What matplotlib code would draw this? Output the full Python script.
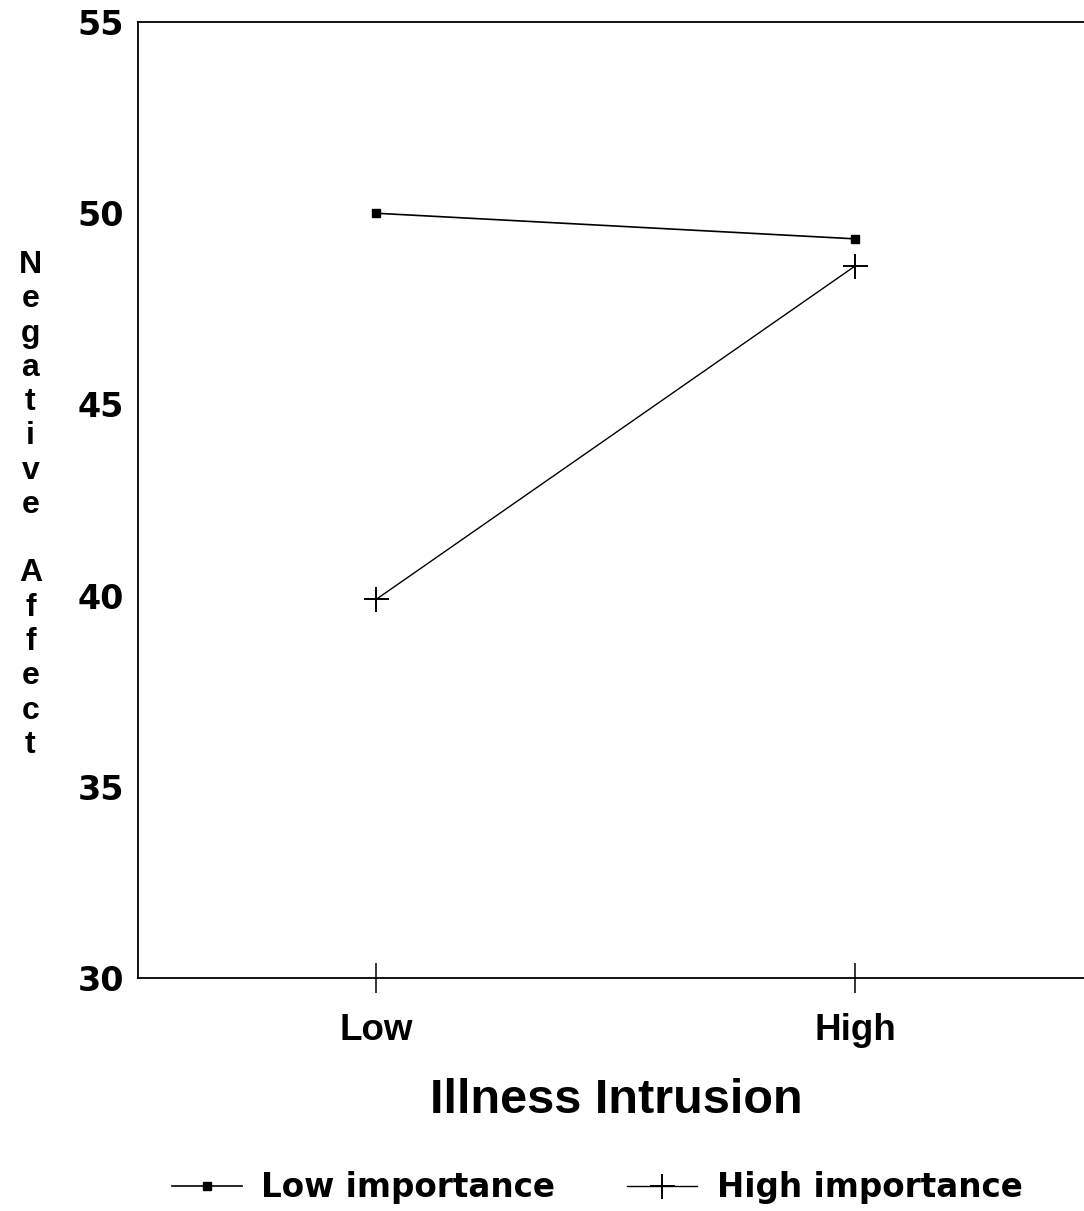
import matplotlib.pyplot as plt

plt.rcParams['font.family'] = ['Liberation Sans', 'DejaVu Sans']
plt.rcParams['font.weight'] = 'bold'

categories = ['Low', 'High']
low_importance = [50.0, 49.33]
high_importance = [39.9, 48.62]
y_ticks = [30, 35, 40, 45, 50, 55]

fig = plt.figure(figsize=(10.84, 12.11), dpi=100)
ax = fig.add_axes([0.1273, 0.1924, 0.8825, 0.7894])

x = range(len(categories))
ax.plot(x, low_importance, color='black', lw=1.2, marker='s', markersize=6,
        label='Low importance')
ax.plot(x, high_importance, color='black', lw=1.0, marker='+', markersize=18,
        markeredgewidth=1.4, label='High importance')

ax.set_xlim(-0.497, 1.5)
ax.set_ylim(30, 55)
ax.set_xticks(list(x))
ax.set_xticklabels(categories, fontsize=26.5, fontweight='bold')
ax.set_yticks(y_ticks)
ax.set_yticklabels([str(t) for t in y_ticks], fontsize=24, fontweight='bold',
                   family='DejaVu Sans')
ax.tick_params(axis='y', length=0, pad=10)
ax.tick_params(axis='x', direction='inout', length=22, width=1.1, pad=14)
ax.spines['right'].set_visible(False)
for s in ['left', 'bottom', 'top']:
    ax.spines[s].set_linewidth(1.3)

ax.set_xlabel('Illness Intrusion', fontsize=35, fontweight='bold', labelpad=22)

# stacked y label, one letter per line
letters = '\n'.join(list('Negative') + [''] + list('Affect'))
fig.text(0.028, 0.583, letters, fontsize=23, fontweight='bold', ha='center',
         va='center', multialignment='center', linespacing=1.185)

ax.legend(loc='center', bbox_to_anchor=(0.551, 0.019), bbox_transform=fig.transFigure,
          ncol=2, frameon=False, handlelength=2.15, handletextpad=0.6,
          columnspacing=2.2, prop={'family': 'DejaVu Sans', 'weight': 'bold', 'size': 23.5})

fig.savefig('out.png', dpi=100)
